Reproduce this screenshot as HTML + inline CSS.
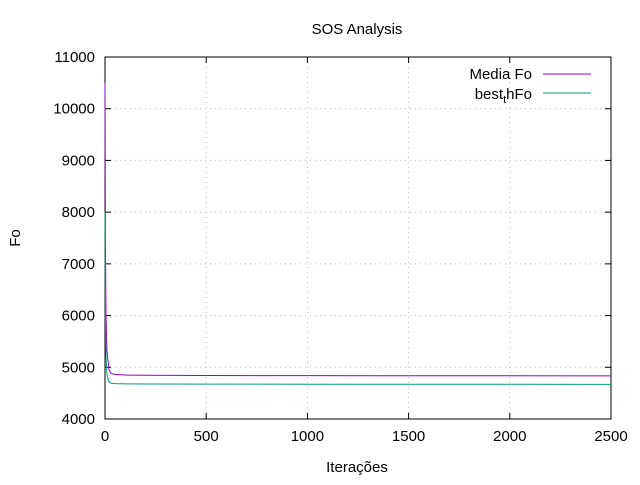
<!DOCTYPE html>
<html><head><meta charset="utf-8"><style>
body{margin:0;background:#fff;font-family:"Liberation Sans",sans-serif}
text{font-family:"Liberation Sans",sans-serif;font-size:15px;fill:#000}
</style></head><body>
<svg id="c" width="640" height="480"></svg>
<script>
const iters=[0,2,5,10,20,30,50,100,200,500,1000,2500];
const mediaFo=[10500,7500,6000,5300,4950,4880,4860,4850,4845,4840,4838,4835];
const bestFo=[8000,6000,5200,4850,4720,4690,4685,4680,4678,4675,4673,4670];
const xTicks=[0,500,1000,1500,2000,2500];
const yTicks=[4000,5000,6000,7000,8000,9000,10000,11000];
const L=105,R=611,T=57,B=419;
const sx=v=>L+(v-0)/2500*(R-L);
const sy=v=>B-(v-4000)/7000*(B-T);
const svg=document.getElementById('c');
const NS='http://www.w3.org/2000/svg';
function mk(tag,attrs,txt){const e=document.createElementNS(NS,tag);for(const k in attrs)e.setAttribute(k,attrs[k]);if(txt!==undefined)e.textContent=txt;svg.appendChild(e);return e;}
xTicks.forEach(v=>{const x=sx(v);
 if(v>0&&v<2500){const g=mk('line',{x1:x,x2:x,y1:T,y2:B,stroke:'#bbb','stroke-dasharray':'1,4'});}
 mk('line',{x1:x,x2:x,y1:B,y2:B-6,stroke:'#000'});mk('line',{x1:x,x2:x,y1:T,y2:T+6,stroke:'#000'});
 const t=mk('text',{x:x,y:B+22,'text-anchor':'middle'},v);});
yTicks.forEach(v=>{const y=sy(v);
 if(v>4000&&v<11000){const g=mk('line',{x1:L,x2:R,y1:y,y2:y,stroke:'#bbb','stroke-dasharray':'1,4'});}
 mk('line',{x1:L,x2:L+6,y1:y,y2:y,stroke:'#000'});mk('line',{x1:R,x2:R-6,y1:y,y2:y,stroke:'#000'});
 const t=mk('text',{x:L-10,y:y+5,'text-anchor':'end'},v);});
const fr=mk('rect',{x:L,y:T,width:R-L,height:B-T,fill:'none',stroke:'#000'});

function series(vals,color,name){const p=mk('polyline',{points:iters.map((v,i)=>sx(v)+','+sy(vals[i])).join(' '),fill:'none',stroke:color,'stroke-width':1});
 }
series(mediaFo,'#9400d3','media-fo-line');
series(bestFo,'#009e73','best-fo-line');
let t=mk('text',{x:357,y:34,'text-anchor':'middle'},'SOS Analysis');
t=mk('text',{x:357,y:472,'text-anchor':'middle'},'Iterações');
t=mk('text',{x:20,y:238,'text-anchor':'middle',transform:'rotate(-90 20 238)'},'Fo');
t=mk('text',{x:532,y:79,'text-anchor':'end'},'Media Fo');
let l=mk('line',{x1:543,x2:591,y1:74,y2:74,stroke:'#9400d3'});
t=mk('text',{x:532,y:99,'text-anchor':'end'});t.innerHTML='best<tspan dy="4" font-size="11">t</tspan><tspan dy="-4">hFo</tspan>';

l=mk('line',{x1:543,x2:591,y1:93,y2:93,stroke:'#009e73'});
</script>
</body></html>
